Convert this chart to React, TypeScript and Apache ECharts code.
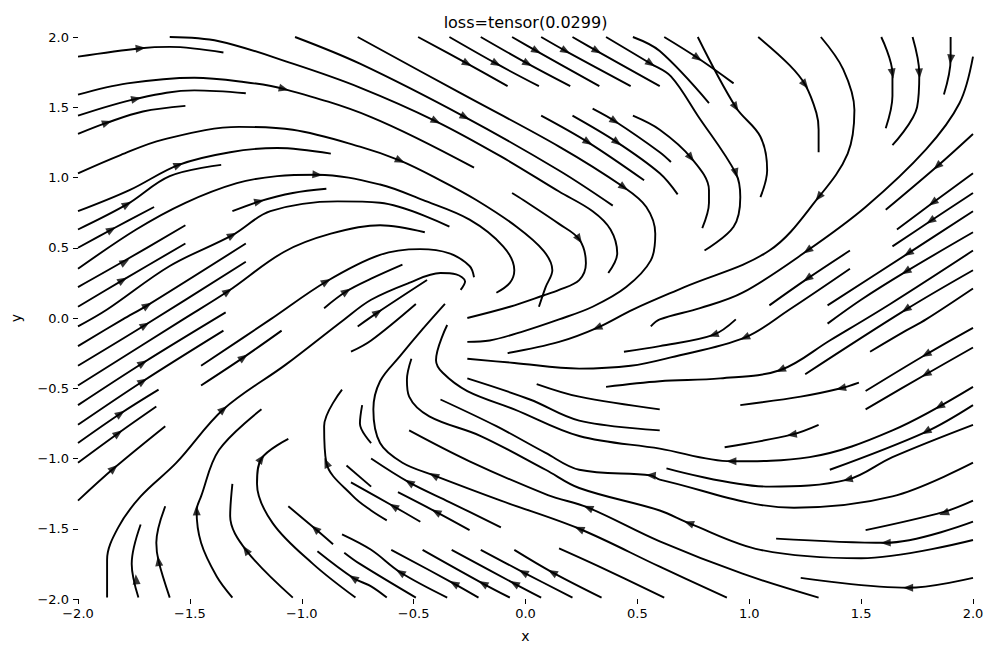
import React, { useEffect, useRef } from "react";
import * as echarts from "echarts";

const chartTitle = "loss=tensor(0.0299)";
const xTickValues = [-2, -1.5, -1, -0.5, 0, 0.5, 1, 1.5, 2];
const yTickValues = [-2, -1.5, -1, -0.5, 0, 0.5, 1, 1.5, 2];

// streamlines, data coordinates
const s01 = [[-2.0, 1.86], [-1.72, 1.92], [-1.59, 1.93], [-1.35, 1.89]];
const s02 = [[-1.59, 2.0], [-1.37, 1.97], [-1.04, 1.81], [-0.74, 1.64], [-0.4, 1.4], [-0.11, 1.15], [0.15, 0.9], [0.3, 0.76], [0.38, 0.63], [0.41, 0.46], [0.37, 0.32]];
const s03 = [[-1.03, 2.0], [-0.74, 1.81], [-0.27, 1.43], [0.15, 1.05], [0.39, 0.8]];
const s04 = [[-0.75, 2.0], [-0.29, 1.6], [0.15, 1.22], [0.44, 0.93], [0.54, 0.79], [0.58, 0.6], [0.56, 0.41], [0.45, 0.22], [0.3, 0.08], [0.15, -0.01], [-0.02, -0.1], [-0.16, -0.16], [-0.26, -0.17]];
const s05 = [[-2.0, 1.59], [-1.78, 1.67], [-1.48, 1.71], [-1.26, 1.68], [-1.08, 1.63], [-0.69, 1.43], [-0.23, 1.07]];
const s06 = [[-2.0, 1.44], [-1.74, 1.56], [-1.48, 1.62], [-1.25, 1.6]];
const s07 = [[-2.0, 1.31], [-1.87, 1.39], [-1.71, 1.47], [-1.52, 1.51]];
const s08 = [[-2.0, 1.03], [-1.81, 1.16], [-1.62, 1.27], [-1.28, 1.36], [-1.04, 1.34], [-0.74, 1.22], [-0.56, 1.12], [-0.38, 0.98], [-0.22, 0.84], [-0.04, 0.65], [0.08, 0.48], [0.12, 0.34], [0.09, 0.22], [0.06, 0.08]];
const s09 = [[-2.0, 0.76], [-1.77, 0.91], [-1.55, 1.09], [-1.32, 1.18], [-1.11, 1.21], [-0.87, 1.17]];
const s10 = [[-2.0, 0.63], [-1.78, 0.81], [-1.59, 1.01], [-1.36, 1.09]];
const s11 = [[-2.0, 0.5], [-1.85, 0.63], [-1.66, 0.79]];
const s12 = [[-2.0, 0.35], [-1.74, 0.63], [-1.52, 0.82], [-1.29, 0.96], [-1.11, 1.01], [-0.93, 1.02], [-0.65, 0.95], [-0.46, 0.84], [-0.25, 0.7], [-0.1, 0.51], [-0.05, 0.34], [-0.07, 0.25], [-0.13, 0.18]];
const s13 = [[-2.0, 0.22], [-1.8, 0.4], [-1.52, 0.66]];
const s14 = [[-2.0, 0.08], [-1.8, 0.27], [-1.52, 0.53]];
const s15 = [[-2.0, -0.06], [-1.87, 0.06], [-1.59, 0.37], [-1.31, 0.59], [-1.14, 0.76], [-0.84, 0.83], [-0.65, 0.82], [-0.34, 0.65]];
const s16 = [[-2.0, -0.2], [-1.8, -0.01], [-1.69, 0.09], [-1.25, 0.53]];
const s17 = [[-2.0, -0.34], [-1.7, -0.05], [-1.25, 0.4]];
const s18 = [[-2.0, -0.48], [-1.53, -0.01], [-1.33, 0.19], [-1.08, 0.47], [-0.87, 0.6], [-0.65, 0.66], [-0.45, 0.61]];
const s19 = [[-2.0, -0.62], [-1.71, -0.32], [-1.34, 0.04]];
const s20 = [[-2.0, -0.76], [-1.71, -0.45], [-1.35, -0.09]];
const s21 = [[-2.0, -0.89], [-1.81, -0.68], [-1.64, -0.51]];
const s22 = [[-2.0, -1.03], [-1.82, -0.82], [-1.65, -0.63]];
const s23 = [[-2.0, -1.3], [-1.84, -1.07], [-1.61, -0.77]];
const s24 = [[-1.87, -1.99], [-1.87, -1.72], [-1.82, -1.49], [-1.72, -1.27], [-1.56, -1.03], [-1.35, -0.65], [-1.07, -0.33], [-0.81, -0.01], [-0.69, 0.13], [-0.52, 0.25], [-0.38, 0.32], [-0.31, 0.31], [-0.27, 0.26], [-0.29, 0.2]];
const s25 = [[-1.45, -0.34], [-1.14, -0.01], [-0.89, 0.26], [-0.65, 0.45], [-0.47, 0.49], [-0.34, 0.46], [-0.25, 0.37], [-0.23, 0.29]];
const s26 = [[-1.45, -0.48], [-1.26, -0.28], [-1.09, -0.09]];
const s27 = [[-0.9, 0.07], [-0.8, 0.19], [-0.69, 0.28], [-0.55, 0.38]];
const s28 = [[-0.75, -0.06], [-0.66, 0.04], [-0.44, 0.27]];
const s29 = [[-0.78, -0.24], [-0.69, -0.16], [-0.49, 0.1]];
const s30 = [[-0.36, 0.1], [-0.46, -0.08], [-0.56, -0.27], [-0.65, -0.45], [-0.68, -0.65], [-0.65, -0.89], [-0.55, -1.03], [-0.41, -1.12], [-0.11, -1.3], [0.24, -1.5], [0.6, -1.77], [0.9, -1.99]];
const s31 = [[-0.51, -0.29], [-0.53, -0.44], [-0.52, -0.56], [-0.43, -0.7], [-0.2, -0.84], [0.09, -1.08], [0.24, -1.21], [0.6, -1.37], [0.73, -1.46], [1.05, -1.65], [1.5, -1.71], [2.0, -1.58]];
const s32 = [[-0.35, -0.05], [-0.4, -0.3], [-0.37, -0.39], [-0.26, -0.52], [-0.05, -0.65], [0.24, -0.84], [0.6, -0.93], [0.92, -1.02], [1.27, -0.99], [1.64, -0.8], [2.0, -0.49]];
const s33 = [[-0.06, 0.89], [-0.01, 0.84], [0.15, 0.67], [0.24, 0.56], [0.27, 0.39], [0.24, 0.27], [0.15, 0.2], [0.08, 0.16], [-0.07, 0.08], [-0.26, 0.0]];
const s34 = [[1.32, 2.0], [1.42, 1.77], [1.47, 1.48], [1.44, 1.17], [1.31, 0.86], [1.09, 0.48], [0.71, 0.22], [0.48, 0.06], [0.32, -0.07], [0.15, -0.17], [-0.08, -0.25]];
const s35 = [[-0.26, -0.29], [-0.05, -0.32], [0.24, -0.36], [0.47, -0.34], [0.65, -0.28], [0.98, -0.14], [1.18, 0.06], [1.45, 0.35]];
const s36 = [[0.44, -0.24], [0.6, -0.2], [0.84, -0.12], [0.94, -0.01]];
const s37 = [[2.0, 0.48], [1.63, 0.1], [1.36, -0.16], [1.14, -0.37], [0.87, -0.43], [0.6, -0.45], [0.36, -0.49]];
const s38 = [[-0.26, -0.43], [0.02, -0.58], [0.24, -0.73], [0.6, -0.8]];
const s39 = [[0.05, -0.47], [0.24, -0.56], [0.6, -0.65]];
const s40 = [[-0.38, -0.58], [-0.13, -0.77], [0.09, -0.96], [0.24, -1.08], [0.56, -1.12], [0.6, -1.15], [1.2, -1.35], [1.64, -1.27], [2.0, -1.03]];
const s41 = [[1.52, -1.51], [1.87, -1.38], [2.0, -1.3]];
const s42 = [[1.12, -1.57], [1.61, -1.6], [2.0, -1.45]];
const s43 = [[-0.52, -0.8], [-0.25, -1.02], [0.1, -1.26], [0.28, -1.35], [0.6, -1.59], [0.97, -1.82], [1.31, -1.99]];
const s44 = [[0.63, -1.07], [1.09, -1.2], [1.44, -1.15], [1.64, -0.99], [2.0, -0.76]];
const s45 = [[1.23, -1.85], [1.71, -1.92], [2.0, -1.85]];
const s46 = [[0.89, -0.92], [1.19, -0.83], [1.31, -0.76]];
const s47 = [[2.0, 1.31], [1.84, 1.08], [1.61, 0.77]];
const s48 = [[2.0, 1.03], [1.82, 0.82], [1.66, 0.63]];
const s49 = [[2.0, 0.89], [1.81, 0.69], [1.64, 0.51]];
const s50 = [[2.0, 0.76], [1.71, 0.46], [1.35, 0.09]];
const s51 = [[2.0, 0.61], [1.7, 0.33], [1.5, 0.13], [1.35, -0.04]];
const s52 = [[2.0, 0.34], [1.7, 0.06], [1.25, -0.4]];
const s53 = [[2.0, 0.21], [1.79, -0.01], [1.7, -0.09], [1.54, -0.24]];
const s54 = [[1.52, -0.52], [1.79, -0.26], [2.0, -0.07]];
const s55 = [[1.52, -0.65], [1.79, -0.4], [2.0, -0.21]];
const s56 = [[1.36, -1.08], [1.79, -0.81], [2.0, -0.62]];
const s57 = [[1.45, 0.48], [1.26, 0.28], [1.09, 0.09]];
const s58 = [[2.0, 1.86], [1.94, 1.53], [1.79, 1.2], [1.52, 0.79], [1.26, 0.48], [0.97, 0.18], [0.78, 0.07], [0.6, -0.01], [0.56, -0.06]];
const s59 = [[-0.48, 2.0], [-0.26, 1.81], [-0.08, 1.65]];
const s60 = [[-0.34, 2.0], [-0.13, 1.81], [0.06, 1.65]];
const s61 = [[-0.2, 2.0], [0.01, 1.81], [0.2, 1.65]];
const s62 = [[-0.06, 2.0], [0.05, 1.9], [0.33, 1.65]];
const s63 = [[0.07, 2.0], [0.18, 1.9], [0.47, 1.65]];
const s64 = [[0.21, 2.0], [0.32, 1.9], [0.6, 1.65]];
const s65 = [[0.36, 2.0], [0.56, 1.81], [0.65, 1.72], [0.77, 1.44], [0.94, 1.03], [0.96, 0.86], [0.93, 0.65], [0.8, 0.48]];
const s66 = [[0.48, 2.0], [0.6, 1.9], [0.82, 1.53]];
const s67 = [[0.62, 2.0], [0.77, 1.85], [0.93, 1.67]];
const s68 = [[0.77, 2.0], [0.94, 1.5], [1.05, 1.29], [1.08, 1.05], [1.05, 0.86]];
const s69 = [[1.04, 2.0], [1.18, 1.8], [1.25, 1.66], [1.3, 1.46], [1.31, 1.34], [1.31, 1.18]];
const s70 = [[1.59, 2.0], [1.64, 1.74], [1.64, 1.58], [1.61, 1.35]];
const s71 = [[1.73, 2.0], [1.76, 1.74], [1.75, 1.5], [1.64, 1.23]];
const s72 = [[1.9, 2.0], [1.9, 1.84], [1.87, 1.59]];
const s73 = [[0.3, 1.49], [0.4, 1.4], [0.6, 1.18], [0.65, 1.11]];
const s74 = [[0.48, 1.44], [0.6, 1.34], [0.74, 1.14], [0.82, 0.91], [0.82, 0.82], [0.79, 0.64]];
const s75 = [[0.07, 1.44], [0.28, 1.25], [0.53, 0.98]];
const s76 = [[0.21, 1.44], [0.41, 1.25], [0.6, 1.03], [0.68, 0.88]];
const s77 = [[-1.31, 0.76], [-1.19, 0.83], [-1.04, 0.89], [-0.89, 0.92]];
const s78 = [[-1.72, -1.47], [-1.76, -1.75], [-1.73, -1.99]];
const s79 = [[-1.61, -1.34], [-1.65, -1.6], [-1.64, -1.73], [-1.59, -1.99]];
const s80 = [[-1.18, -0.65], [-1.37, -0.94], [-1.45, -1.27], [-1.47, -1.37], [-1.45, -1.6], [-1.38, -1.84], [-1.31, -1.99]];
const s81 = [[-1.31, -1.18], [-1.32, -1.41], [-1.25, -1.65], [-1.04, -1.99]];
const s82 = [[-1.06, -0.86], [-1.18, -1.0], [-1.2, -1.18], [-1.13, -1.46], [-0.95, -1.75], [-0.76, -1.99]];
const s83 = [[-0.82, -0.51], [-0.9, -0.77], [-0.89, -1.03], [-0.77, -1.27], [-0.69, -1.37], [-0.62, -1.44]];
const s84 = [[-0.73, -0.62], [-0.74, -0.75], [-0.69, -0.89]];
const s85 = [[-0.8, -1.05], [-0.69, -1.2]];
const s86 = [[-0.82, -1.54], [-0.69, -1.65], [-0.56, -1.81], [-0.35, -1.99]];
const s87 = [[-0.93, -1.66], [-0.77, -1.85], [-0.69, -1.91], [-0.62, -1.99]];
const s88 = [[-0.6, -1.65], [-0.32, -1.89], [-0.21, -1.99]];
const s89 = [[-0.46, -1.65], [-0.19, -1.89], [-0.07, -1.99]];
const s90 = [[-0.33, -1.65], [-0.05, -1.89], [0.07, -1.99]];
const s91 = [[-0.2, -1.65], [-0.01, -1.81], [0.21, -1.99]];
const s92 = [[-0.05, -1.65], [0.12, -1.81], [0.34, -1.99]];
const s93 = [[-0.81, -1.67], [-0.74, -1.75], [-0.49, -1.99]];
const s94 = [[-0.69, -1.0], [-0.52, -1.17], [-0.34, -1.31], [-0.11, -1.49]];
const s95 = [[-0.57, -1.24], [-0.4, -1.38], [-0.25, -1.51]];
const s96 = [[-0.78, -1.17], [-0.59, -1.34], [-0.47, -1.45]];
const s97 = [[-1.06, -1.34], [-0.94, -1.5], [-0.86, -1.61]];
const s98 = [[0.96, -0.62], [1.23, -0.56], [1.41, -0.5], [1.49, -0.46]];
const s99 = [[0.15, -1.64], [0.33, -1.77], [0.62, -1.99]];

const streamlines = [s01, s02, s03, s04, s05, s06, s07, s08, s09, s10, s11, s12, s13, s14, s15, s16, s17, s18, s19, s20,
  s21, s22, s23, s24, s25, s26, s27, s28, s29, s30, s31, s32, s33, s34, s35, s36, s37, s38, s39, s40,
  s41, s42, s43, s44, s45, s46, s47, s48, s49, s50, s51, s52, s53, s54, s55, s56, s57, s58, s59, s60,
  s61, s62, s63, s64, s65, s66, s67, s68, s69, s70, s71, s72, s73, s74, s75, s76, s77, s78, s79, s80,
  s81, s82, s83, s84, s85, s86, s87, s88, s89, s90, s91, s92, s93, s94, s95, s96, s97, s98, s99];

// arrow heads: x, y, flow direction (degrees, counter-clockwise from +x on screen)
const arrowHeads = [
  [-1.72, 1.92, 6], [-1.74, 1.56, 12], [-1.87, 1.39, 19], [-1.08, 1.63, -15], [-1.55, 1.09, 21],
  [-0.93, 1.02, -5], [-1.19, 0.83, 14], [-1.31, 0.59, 29], [-1.78, 0.81, 30], [-1.85, 0.63, 29],
  [-1.79, 0.4, 30], [-1.8, 0.27, 31], [-1.69, 0.09, 32], [-1.7, -0.05, 31], [-1.71, -0.32, 32],
  [-1.71, -0.45, 33], [-1.81, -0.68, 34], [-1.82, -0.82, 36], [-1.84, -1.07, 41], [-1.33, 0.19, 34],
  [-1.35, -0.65, 41], [-1.26, -0.28, 35], [-0.89, 0.26, 31], [-0.8, 0.19, 34], [-0.66, 0.04, 34],
  [-0.26, 1.81, -29], [-0.13, 1.81, -29], [0.01, 1.81, -29], [0.05, 1.9, -29], [0.18, 1.9, -29],
  [0.32, 1.9, -29], [0.56, 1.81, -33], [-0.27, 1.43, -28], [-0.4, 1.4, -27], [-0.56, 1.12, -25],
  [0.28, 1.25, -32], [0.41, 1.25, -37], [0.4, 1.4, -32], [0.44, 0.93, -35], [0.24, 0.56, -56],
  [0.77, 1.85, -35], [0.94, 1.5, -57], [0.74, 1.14, -51], [0.94, 1.03, -75], [1.25, 1.66, -52],
  [1.31, 0.86, -128], [1.64, 1.74, -80], [1.76, 1.74, -86], [1.9, 1.84, -97], [1.26, 0.48, -145],
  [1.84, 1.08, -138], [1.82, 0.82, -144], [1.81, 0.69, -146], [1.71, 0.46, -147], [1.7, 0.33, -148],
  [1.26, 0.28, -145], [1.7, 0.06, -146], [1.14, -0.37, -155], [0.84, -0.12, -160], [0.98, -0.14, -155],
  [0.32, -0.07, -156], [1.79, -0.26, -150], [1.79, -0.4, -150], [1.85, -0.63, -150], [1.79, -0.81, -150],
  [1.19, -0.83, -170], [0.92, -1.02, 180], [0.73, -1.46, 160], [1.87, -1.39, -160], [1.61, -1.6, -178],
  [1.71, -1.92, 180], [0.56, -1.12, 175], [1.44, -1.15, -166], [1.41, -0.5, -167],
  [0.28, -1.35, 157], [0.24, -1.5, 157],
  [-0.32, -1.89, 151], [-0.19, -1.89, 151], [-0.05, -1.89, 151], [-0.01, -1.81, 152], [0.12, -1.81, 151],
  [-0.56, -1.81, 149], [-0.77, -1.85, 147], [-0.52, -1.17, 149], [-0.4, -1.38, 152], [-0.59, -1.34, 149],
  [-0.41, -1.12, 152], [-0.89, -1.03, 113], [-0.94, -1.5, 138],
  [-1.47, -1.37, 92], [-1.64, -1.73, 98], [-1.74, -1.86, 95], [-1.18, -1.0, 55], [-1.25, -1.65, 125]
];

export default function App() {
  const ref = useRef<HTMLDivElement>(null);
  useEffect(() => {
    if (!ref.current) return;
    const chart = echarts.init(ref.current, null, { renderer: "svg" });
    const fmt = (v: number) => {
      const s = v.toFixed(1);
      return s.startsWith("-") ? "\u2212" + s.slice(1) : s;
    };
    const font = "DejaVu Sans";
    const lineSeries = streamlines.map((pts) => ({
      type: "line",
      data: pts,
      showSymbol: false,
      symbol: "none",
      smooth: 0.35,
      lineStyle: { color: "#000", width: 1.9 },
      silent: true,
      z: 2,
    }));
    const arrowSeries = {
      type: "scatter",
      symbol: "triangle",
      symbolSize: [8, 10],
      itemStyle: { color: "#000" },
      silent: true,
      z: 3,
      data: arrowHeads.map((a) => ({ value: [a[0], a[1]], symbolRotate: a[2] - 90 })),
    };
    chart.setOption({
      animation: false,
      backgroundColor: "#fff",
      grid: { left: 78, right: 27, top: 37, bottom: 58 },
      graphic: [
        {
          type: "text",
          x: 525.5,
          y: 22,
          style: { text: chartTitle, fill: "#000", font: `16px "${font}"`, textAlign: "center", textVerticalAlign: "middle" },
        },
      ],
      xAxis: {
        type: "value",
        min: -2,
        max: 2,
        interval: 0.5,
        name: "x",
        nameLocation: "middle",
        nameGap: 30,
        nameTextStyle: { color: "#000", fontSize: 14, fontFamily: font },
        axisLine: { show: false, onZero: false },
        axisTick: { show: true, length: 5, lineStyle: { color: "#000", width: 1 } },
        axisLabel: { color: "#000", fontSize: 13, fontFamily: font, margin: 8, formatter: fmt },
        splitLine: { show: false },
      },
      yAxis: {
        type: "value",
        min: -2,
        max: 2,
        interval: 0.5,
        name: "y",
        nameLocation: "middle",
        nameGap: 55,
        nameRotate: 90,
        nameTextStyle: { color: "#000", fontSize: 14, fontFamily: font },
        axisLine: { show: false, onZero: false },
        axisTick: { show: true, length: 5, lineStyle: { color: "#000", width: 1 } },
        axisLabel: { color: "#000", fontSize: 13, fontFamily: font, margin: 9, formatter: fmt },
        splitLine: { show: false },
      },
      series: [...lineSeries, arrowSeries],
    });
    return () => chart.dispose();
  }, []);
  return <div ref={ref} style={{ position: "fixed", left: 0, top: 0, width: 1000, height: 657 }} />;
}
